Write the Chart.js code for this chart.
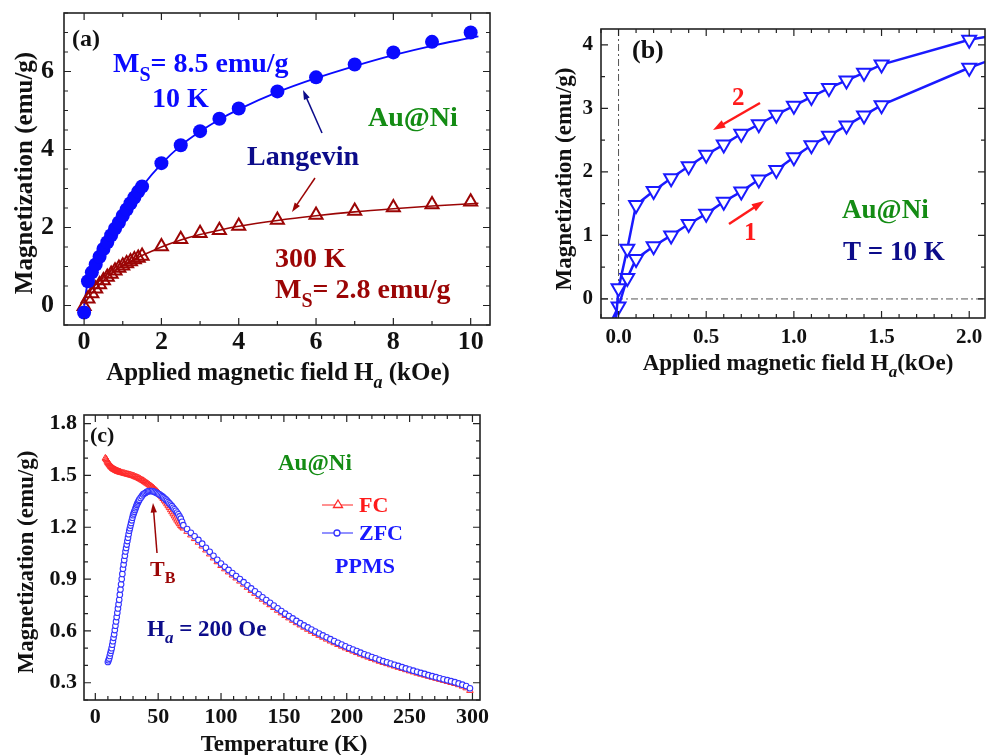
<!DOCTYPE html>
<html>
<head>
<meta charset="utf-8">
<script src="https://cdn.jsdelivr.net/npm/chart.js@4.4.0/dist/chart.umd.min.js"></script>
<style>
  html, body { margin: 0; padding: 0; background: #fff; width: 994px; height: 755px; overflow: hidden; }
  canvas { position: absolute; }
  #chartA { left: 0; top: 0; }
  #chartB { left: 540px; top: 0; }
  #chartC { left: 0; top: 400px; }
</style>
</head>
<body>
<canvas id="chartA" width="510" height="395"></canvas>
<canvas id="chartB" width="455" height="390"></canvas>
<canvas id="chartC" width="500" height="355"></canvas>
<script>
// (a) M-H curves, 10 K and 300 K
const fieldMH = [0, 0.1, 0.2, 0.3, 0.4, 0.5, 0.6, 0.7, 0.8, 0.9, 1.0, 1.1, 1.2, 1.3, 1.4, 1.5, 2, 2.5, 3, 3.5, 4, 5, 6, 7, 8, 9, 10];
const mag10K = [-0.18, 0.62, 0.85, 1.05, 1.25, 1.45, 1.62, 1.8, 1.97, 2.13, 2.3, 2.46, 2.62, 2.77, 2.92, 3.05, 3.65, 4.11, 4.47, 4.79, 5.05, 5.49, 5.85, 6.18, 6.49, 6.76, 7.0];
const mag300K = [-0.02, 0.17, 0.31, 0.43, 0.54, 0.64, 0.73, 0.81, 0.89, 0.96, 1.02, 1.08, 1.13, 1.18, 1.22, 1.27, 1.51, 1.70, 1.85, 1.93, 2.04, 2.19, 2.32, 2.42, 2.51, 2.59, 2.66];
// Langevin fits
const fitField = [0, 0.05, 0.1, 0.2, 0.4, 0.6, 0.8, 1.0, 1.25, 1.5, 2, 2.5, 3, 3.5, 4, 5, 6, 7, 8, 9, 10, 10.2];
const fit10K = [0, 0.35, 0.62, 0.87, 1.27, 1.63, 1.97, 2.3, 2.7, 3.05, 3.63, 4.1, 4.46, 4.77, 5.03, 5.47, 5.83, 6.14, 6.42, 6.66, 6.86, 6.9];
const fit300K = [0, 0.1, 0.18, 0.32, 0.54, 0.73, 0.89, 1.03, 1.16, 1.28, 1.5, 1.68, 1.82, 1.93, 2.03, 2.18, 2.3, 2.4, 2.48, 2.55, 2.61, 2.62];
const aXTicks = [0, 2, 4, 6, 8, 10];
const aYTicks = [0, 2, 4, 6];

// (b) low-field loop at 10 K
const branch1H = [-0.06, 0.0, 0.05, 0.1, 0.2, 0.3, 0.4, 0.5, 0.6, 0.7, 0.8, 0.9, 1.0, 1.1, 1.2, 1.3, 1.4, 1.5, 2.0, 2.5];
const branch1M = [-0.46, -0.12, 0.33, 0.63, 0.83, 1.0, 1.18, 1.34, 1.53, 1.69, 1.88, 2.03, 2.23, 2.42, 2.57, 2.73, 2.89, 3.05, 3.64, 4.14];
const branch2H = [2.5, 2.0, 1.5, 1.4, 1.3, 1.2, 1.1, 1.0, 0.9, 0.8, 0.7, 0.6, 0.5, 0.4, 0.3, 0.2, 0.1, 0.05, 0.0, -0.02];
const branch2M = [4.33, 4.08, 3.69, 3.56, 3.44, 3.32, 3.18, 3.04, 2.90, 2.75, 2.60, 2.43, 2.27, 2.09, 1.90, 1.70, 1.48, 0.79, 0.17, -0.5];
const bXTicks = [0.0, 0.5, 1.0, 1.5, 2.0];
const bYTicks = [0, 1, 2, 3, 4];

// (c) FC / ZFC, H = 200 Oe
const tempFCLow = [8, 8.5, 9, 9.5, 10, 10.5, 11, 11.5, 12, 12.5, 13, 13.5, 14, 14.5, 15, 15.5, 16, 16.5, 17, 17.5, 18, 18.5, 19, 19.5, 20,
    21, 22, 23, 24, 25, 26, 27, 28, 29, 30, 31, 32, 33, 34, 35, 36, 37, 38, 39, 40, 41, 42, 43, 44, 45, 46, 47, 48, 49, 50,
    51, 52, 53, 54, 55, 56, 57, 58, 59, 60, 61, 62, 63, 64, 65, 66, 67, 68, 69, 70];
const magFCLow = [1.60, 1.595, 1.59, 1.582, 1.575, 1.57, 1.565, 1.56, 1.555, 1.551, 1.547, 1.543, 1.54, 1.537, 1.535, 1.533, 1.531, 1.529, 1.527, 1.525, 1.524, 1.522, 1.521, 1.52, 1.518,
    1.516, 1.514, 1.512, 1.51, 1.508, 1.506, 1.504, 1.502, 1.50, 1.498, 1.495, 1.492, 1.489, 1.486, 1.482, 1.478, 1.474, 1.47, 1.465, 1.46, 1.455, 1.45, 1.445, 1.44, 1.434, 1.428, 1.421, 1.414, 1.407, 1.40,
    1.392, 1.384, 1.375, 1.366, 1.356, 1.346, 1.335, 1.324, 1.313, 1.301, 1.289, 1.277, 1.265, 1.253, 1.241, 1.23, 1.22, 1.21, 1.202, 1.195];
const tempZFCLow = [10, 10.5, 11, 11.5, 12, 12.5, 13, 13.5, 14, 14.5, 15, 15.5, 16, 16.5, 17, 17.5, 18, 18.5, 19, 19.5, 20, 20.5, 21, 21.5, 22, 22.5,
    23, 23.5, 24, 24.5, 25, 25.5, 26, 26.5, 27, 27.5, 28, 28.5, 29, 29.5, 30, 30.5, 31, 31.5, 32, 32.5, 33, 33.5, 34, 34.5, 35,
    36, 37, 38, 39, 40, 41, 42, 43, 44, 45, 46, 47, 48, 49, 50, 51, 52, 53, 54, 55, 56, 57, 58, 59, 60, 61, 62, 63, 64, 65, 66, 67, 68, 69, 70];
const magZFCLow = [0.42, 0.43, 0.44, 0.455, 0.47, 0.485, 0.50, 0.52, 0.54, 0.56, 0.58, 0.605, 0.63, 0.655, 0.68, 0.705, 0.73, 0.755, 0.78, 0.81, 0.84, 0.87, 0.90, 0.93, 0.96, 0.985,
    1.01, 1.035, 1.06, 1.08, 1.10, 1.12, 1.14, 1.16, 1.18, 1.195, 1.21, 1.225, 1.24, 1.255, 1.27, 1.28, 1.29, 1.30, 1.31, 1.32, 1.33, 1.338, 1.345, 1.353, 1.36,
    1.37, 1.38, 1.39, 1.395, 1.40, 1.405, 1.408, 1.41, 1.41, 1.41, 1.408, 1.405, 1.402, 1.398, 1.394, 1.39, 1.385, 1.38, 1.374, 1.368, 1.361, 1.354, 1.346, 1.338,
    1.33, 1.322, 1.313, 1.304, 1.295, 1.285, 1.275, 1.263, 1.25, 1.232, 1.212];
const tempHigh = [73, 76, 79, 82, 85, 88, 91, 94, 97, 100, 103, 106, 109, 112, 115, 118, 121, 124, 127, 130, 133, 136, 139, 142, 145, 148, 151, 154, 157, 160, 163, 166, 169, 172, 175, 178, 181, 184, 187, 190, 193, 196, 199, 202, 205, 208, 211, 214, 217, 220, 223, 226, 229, 232, 235, 238, 241, 244, 247, 250, 253, 256, 259, 262, 265, 268, 271, 274, 277, 280, 283, 286, 289, 292, 295, 298];
const magFCHigh = [1.176, 1.155, 1.134, 1.113, 1.091, 1.068, 1.045, 1.022, 1.0, 0.978, 0.959, 0.941, 0.923, 0.906, 0.888, 0.87, 0.852, 0.834, 0.817, 0.80, 0.783, 0.767, 0.751, 0.735, 0.719, 0.704, 0.689, 0.675, 0.661, 0.647, 0.634, 0.621, 0.609, 0.597, 0.585, 0.574, 0.563, 0.552, 0.541, 0.531, 0.521, 0.511, 0.501, 0.492, 0.483, 0.474, 0.465, 0.456, 0.448, 0.44, 0.432, 0.424, 0.417, 0.41, 0.403, 0.396, 0.389, 0.382, 0.375, 0.368, 0.362, 0.355, 0.349, 0.343, 0.337, 0.331, 0.325, 0.319, 0.313, 0.307, 0.301, 0.295, 0.288, 0.28, 0.27, 0.255];
const magZFCHigh = [1.19, 1.168, 1.148, 1.127, 1.105, 1.081, 1.058, 1.035, 1.012, 0.99, 0.971, 0.953, 0.935, 0.918, 0.9, 0.882, 0.864, 0.846, 0.829, 0.812, 0.795, 0.779, 0.763, 0.747, 0.731, 0.715, 0.70, 0.686, 0.672, 0.658, 0.645, 0.632, 0.62, 0.608, 0.596, 0.585, 0.574, 0.563, 0.552, 0.541, 0.531, 0.521, 0.511, 0.501, 0.492, 0.483, 0.474, 0.465, 0.457, 0.449, 0.441, 0.433, 0.425, 0.418, 0.411, 0.404, 0.397, 0.39, 0.383, 0.376, 0.37, 0.363, 0.357, 0.351, 0.344, 0.338, 0.332, 0.326, 0.32, 0.315, 0.309, 0.303, 0.296, 0.289, 0.281, 0.268];
const cXTicks = [0, 50, 100, 150, 200, 250, 300];
const cYTicks = [0.3, 0.6, 0.9, 1.2, 1.5, 1.8];

const serif = "'Liberation Serif', 'Times New Roman', serif";
const BLUE = '#0a0aff', DARKRED = '#9b0505', NAVY = '#0c0c8a', GREEN = '#148c14';

const pts = (xs, ys) => xs.map((x, i) => ({ x: x, y: ys[i] }));

// text with optional subscripts: parts = [[text, ''|'sub'|'subi'], ...]
function richWidth(ctx, parts, size) {
    let w = 0;
    parts.forEach(([t, kind]) => {
        const fs = kind ? Math.round(size * 0.72) : size;
        ctx.font = (kind === 'subi' ? 'italic ' : '') + 'bold ' + fs + 'px ' + serif;
        w += ctx.measureText(t).width;
    });
    return w;
}
function drawRich(ctx, x, y, parts, size, color) {
    ctx.save();
    ctx.fillStyle = color;
    ctx.textAlign = 'left';
    ctx.textBaseline = 'alphabetic';
    let cx = x;
    parts.forEach(([t, kind]) => {
        const fs = kind ? Math.round(size * 0.72) : size;
        ctx.font = (kind === 'subi' ? 'italic ' : '') + 'bold ' + fs + 'px ' + serif;
        ctx.fillText(t, cx, kind ? y + size * 0.32 : y);
        cx += ctx.measureText(t).width;
    });
    ctx.restore();
}
function drawTitleX(ctx, cx, y, parts, size) {
    drawRich(ctx, cx - richWidth(ctx, parts, size) / 2, y, parts, size, '#111');
}
function drawTitleY(ctx, x, cy, parts, size) {
    ctx.save();
    ctx.translate(x, cy);
    ctx.rotate(-Math.PI / 2);
    drawRich(ctx, -richWidth(ctx, parts, size) / 2, 0, parts, size, '#111');
    ctx.restore();
}
function arrow(ctx, x1, y1, x2, y2, color, lw, head) {
    const ang = Math.atan2(y2 - y1, x2 - x1);
    ctx.save();
    ctx.strokeStyle = color; ctx.fillStyle = color; ctx.lineWidth = lw;
    ctx.beginPath();
    ctx.moveTo(x1, y1);
    ctx.lineTo(x2 - Math.cos(ang) * head * 0.7, y2 - Math.sin(ang) * head * 0.7);
    ctx.stroke();
    ctx.beginPath();
    ctx.moveTo(x2, y2);
    ctx.lineTo(x2 - head * Math.cos(ang - 0.32), y2 - head * Math.sin(ang - 0.32));
    ctx.lineTo(x2 - head * Math.cos(ang + 0.32), y2 - head * Math.sin(ang + 0.32));
    ctx.closePath();
    ctx.fill();
    ctx.restore();
}

// box frame with inward major/minor ticks on all four sides
const frameTicks = {
    id: 'frameTicks',
    afterDatasetsDraw(chart, args, o) {
        const { ctx, chartArea: a, scales: { x, y } } = chart;
        ctx.save();
        ctx.strokeStyle = '#222';
        ctx.lineWidth = 1.2;
        ctx.beginPath();
        const isMajor = (v, step) => Math.abs(v / step - Math.round(v / step)) < 1e-6;
        for (let v = Math.ceil(x.min / o.xMinor) * o.xMinor; v <= x.max + 1e-9; v += o.xMinor) {
            const px = x.getPixelForValue(v), len = isMajor(v, o.xMajor) ? 7 : 4;
            ctx.moveTo(px, a.bottom); ctx.lineTo(px, a.bottom - len);
            ctx.moveTo(px, a.top); ctx.lineTo(px, a.top + len);
        }
        for (let v = Math.ceil(y.min / o.yMinor) * o.yMinor; v <= y.max + 1e-9; v += o.yMinor) {
            const py = y.getPixelForValue(v), len = isMajor(v, o.yMajor) ? 7 : 4;
            ctx.moveTo(a.left, py); ctx.lineTo(a.left + len, py);
            ctx.moveTo(a.right, py); ctx.lineTo(a.right - len, py);
        }
        ctx.stroke();
        ctx.lineWidth = 1.6;
        ctx.strokeRect(a.left, a.top, a.right - a.left, a.bottom - a.top);
        ctx.restore();
    }
};

function axis(min, max, ticks, fmt, size, pad, fit, horizontal) {
    return {
        type: 'linear', min: min, max: max,
        grid: { display: false, drawTicks: false },
        border: { display: false },
        ticks: { font: { family: serif, size: size, weight: 'bold' }, color: '#111', padding: pad,
                 autoSkip: false, maxRotation: 0, minRotation: 0, callback: fmt },
        afterBuildTicks: s => { s.ticks = ticks.map(v => ({ value: v })); },
        afterFit: s => {
            if (horizontal) { s.height = fit; s.paddingLeft = 0; s.paddingRight = 0; }
            else { s.width = fit; s.paddingTop = 0; s.paddingBottom = 0; }
        }
    };
}

const baseOpts = (padding, scales, tickSteps) => ({
    responsive: false, animation: false, layout: { padding: padding },
    scales: scales,
    plugins: { legend: { display: false }, tooltip: { enabled: false }, frameTicks: tickSteps }
});

// ---------- (a) ----------
new Chart(document.getElementById('chartA'), {
    type: 'scatter',
    data: { datasets: [
        { data: pts(fieldMH, mag10K), pointStyle: 'circle', pointRadius: 7, backgroundColor: BLUE, borderColor: BLUE, borderWidth: 0 },
        { data: pts(fieldMH, mag300K), pointStyle: 'triangle', pointRadius: 7.5, backgroundColor: 'rgba(0,0,0,0)', borderColor: DARKRED, borderWidth: 2 },
        { data: pts(fitField, fit10K), showLine: true, pointRadius: 0, borderColor: BLUE, borderWidth: 1.8, cubicInterpolationMode: 'monotone' },
        { data: pts(fitField, fit300K), showLine: true, pointRadius: 0, borderColor: DARKRED, borderWidth: 1.6, cubicInterpolationMode: 'monotone' }
    ] },
    options: baseOpts({ top: 13, right: 20, left: 0, bottom: 0 }, {
        x: axis(-0.52, 10.5, aXTicks, v => v, 26, 2, 70, true),
        y: axis(-0.5, 7.5, aYTicks, v => v, 26, 10, 64, false)
    }, { xMinor: 1, xMajor: 2, yMinor: 0.5, yMajor: 2 }),
    plugins: [frameTicks, { id: 'labelsA', afterDraw(c) {
        const ctx = c.ctx;
        drawTitleY(ctx, 32, 173, [['Magnetization (emu/g)', '']], 25);
        drawTitleX(ctx, 278, 380, [['Applied magnetic field H', ''], ['a', 'subi'], [' (kOe)', '']], 25);
        drawRich(ctx, 72, 46, [['(a)', '']], 24, '#111');
        drawRich(ctx, 113, 72, [['M', ''], ['S', 'sub'], ['= 8.5 emu/g', '']], 28, BLUE);
        drawRich(ctx, 152, 107, [['10 K', '']], 28, BLUE);
        drawRich(ctx, 368, 126, [['Au@Ni', '']], 28, GREEN);
        drawRich(ctx, 247, 165, [['Langevin', '']], 28, NAVY);
        drawRich(ctx, 275, 267, [['300 K', '']], 28, DARKRED);
        drawRich(ctx, 275, 298, [['M', ''], ['S', 'sub'], ['= 2.8 emu/g', '']], 28, DARKRED);
        arrow(ctx, 322, 133, 303, 90, NAVY, 1.5, 10);
        arrow(ctx, 315, 178, 292, 212, DARKRED, 1.5, 10);
    } }]
});

// ---------- (b) ----------
const loopStyle = { showLine: true, clip: 0, borderColor: '#1a1aff', borderWidth: 2.5, pointStyle: 'triangle', rotation: 180,
                    pointRadius: 8, pointBorderWidth: 2, pointBorderColor: '#1a1aff', pointBackgroundColor: '#ffffff' };
new Chart(document.getElementById('chartB'), {
    type: 'scatter',
    data: { datasets: [
        Object.assign({ data: pts(branch2H, branch2M) }, loopStyle),
        Object.assign({ data: pts(branch1H, branch1M) }, loopStyle)
    ] },
    options: baseOpts({ top: 29, right: 2, left: 0, bottom: 0 }, {
        x: axis(-0.1, 2.09, bXTicks, v => v.toFixed(1), 21, 7, 72, true),
        y: axis(-0.3, 4.25, bYTicks, v => v, 21, 8, 61, false)
    }, { xMinor: 0.1, xMajor: 0.5, yMinor: 0.5, yMajor: 1 }),
    plugins: [{ id: 'zeroLines', beforeDatasetsDraw(c) {
        const { ctx, chartArea: a, scales: { x, y } } = c;
        ctx.save();
        ctx.strokeStyle = '#555'; ctx.lineWidth = 1;
        ctx.setLineDash([7, 3, 2, 3]);
        ctx.beginPath();
        ctx.moveTo(a.left, y.getPixelForValue(0)); ctx.lineTo(a.right, y.getPixelForValue(0));
        ctx.moveTo(x.getPixelForValue(0), a.top); ctx.lineTo(x.getPixelForValue(0), a.bottom);
        ctx.stroke();
        ctx.restore();
    } }, frameTicks, { id: 'labelsB', afterDraw(c) {
        const ctx = c.ctx;
        drawTitleY(ctx, 31, 179, [['Magnetization (emu/g)', '']], 23);
        drawTitleX(ctx, 258, 370, [['Applied magnetic field H', ''], ['a', 'subi'], ['(kOe)', '']], 23);
        drawRich(ctx, 92, 58, [['(b)', '']], 26, '#111');
        drawRich(ctx, 192, 105, [['2', '']], 25, '#ff1a1a');
        drawRich(ctx, 204, 240, [['1', '']], 25, '#ff1a1a');
        drawRich(ctx, 302, 218, [['Au@Ni', '']], 27, GREEN);
        drawRich(ctx, 303, 260, [['T = 10 K', '']], 27, NAVY);
        arrow(ctx, 220, 103, 173, 130, '#ff1a1a', 2.5, 13);
        arrow(ctx, 189, 224, 224, 201, '#ff1a1a', 2.5, 13);
    } }]
});

// ---------- (c) ----------
const FCRED = '#ff2a2a', ZFCBLUE = '#3333ff';
new Chart(document.getElementById('chartC'), {
    type: 'scatter',
    data: { datasets: [
        { data: pts(tempZFCLow.concat(tempHigh), magZFCLow.concat(magZFCHigh)), pointStyle: 'circle', pointRadius: 2.8,
          borderColor: ZFCBLUE, borderWidth: 1.1, backgroundColor: '#ffffff' },
        { data: pts(tempFCLow.concat(tempHigh), magFCLow.concat(magFCHigh)), pointStyle: 'triangle', pointRadius: 3.8,
          borderColor: FCRED, borderWidth: 1, backgroundColor: 'rgba(0,0,0,0)' }
    ] },
    options: baseOpts({ top: 15, right: 20, left: 0, bottom: 0 }, {
        x: axis(-9, 306, cXTicks, v => v, 22, 4, 55, true),
        y: axis(0.2, 1.85, cYTicks, v => v.toFixed(1), 22, 7, 84, false)
    }, { xMinor: 10, xMajor: 50, yMinor: 0.1, yMajor: 0.3 }),
    plugins: [frameTicks, { id: 'labelsC', afterDraw(c) {
        const ctx = c.ctx;
        drawTitleY(ctx, 33, 162, [['Magnetization (emu/g)', '']], 23);
        drawTitleX(ctx, 284, 351, [['Temperature (K)', '']], 23);
        drawRich(ctx, 90, 42, [['(c)', '']], 22, '#111');
        drawRich(ctx, 278, 70, [['Au@Ni', '']], 23, GREEN);
        // legend
        ctx.save();
        ctx.lineWidth = 1.3;
        ctx.strokeStyle = '#ff5555';
        ctx.beginPath(); ctx.moveTo(322, 105); ctx.lineTo(353, 105); ctx.stroke();
        ctx.fillStyle = '#fff'; ctx.strokeStyle = FCRED;
        ctx.beginPath(); ctx.moveTo(338, 100); ctx.lineTo(342.5, 107.5); ctx.lineTo(333.5, 107.5); ctx.closePath(); ctx.fill(); ctx.stroke();
        ctx.strokeStyle = '#5555ff';
        ctx.beginPath(); ctx.moveTo(322, 133); ctx.lineTo(353, 133); ctx.stroke();
        ctx.strokeStyle = ZFCBLUE;
        ctx.beginPath(); ctx.arc(337, 133, 3, 0, Math.PI * 2); ctx.fill(); ctx.stroke();
        ctx.restore();
        drawRich(ctx, 359, 112, [['FC', '']], 22, '#ff1a1a');
        drawRich(ctx, 359, 140, [['ZFC', '']], 22, '#1a1aff');
        drawRich(ctx, 335, 173, [['PPMS', '']], 22, '#1a1aff');
        drawRich(ctx, 150, 176, [['T', ''], ['B', 'sub']], 22, DARKRED);
        drawRich(ctx, 147, 236, [['H', ''], ['a', 'subi'], [' = 200 Oe', '']], 23, NAVY);
        arrow(ctx, 157, 153, 153, 103, DARKRED, 1.5, 10);
    } }]
});
</script>
</body>
</html>
